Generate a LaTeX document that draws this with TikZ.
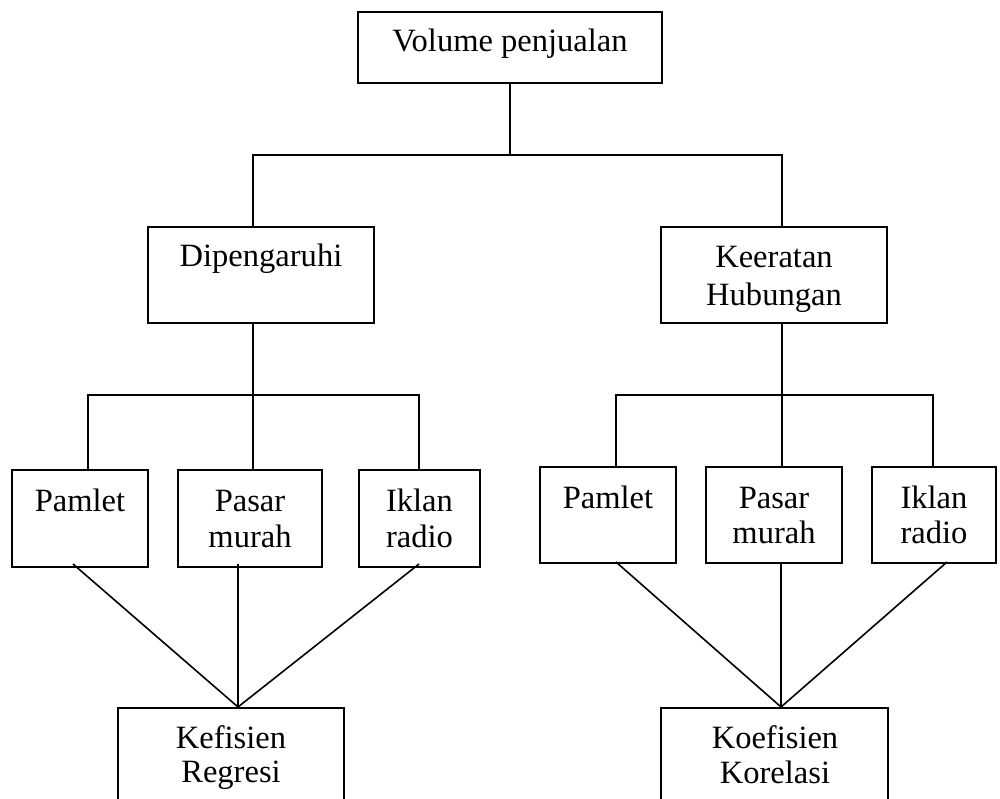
\documentclass[tikz,border=0pt]{standalone}
\usepackage{fontspec}
\setmainfont{Liberation Serif}
\begin{document}
\begin{tikzpicture}[x=0.75pt,y=-0.75pt,
  box/.style={draw, line width=1.2pt, inner sep=0pt, fill=none},
  txt/.style={anchor=base, inner sep=0pt, font=\fontsize{24.4pt}{29pt}\selectfont},
  wire/.style={line width=1.2pt}]
\useasboundingbox (0,0) rectangle (1000,799);
\clip (0,0) rectangle (1000,799);

% boxes: name, centre x, centre y, width, height (in px)
\newcommand\pbox[5]{\node[box, minimum width=#4*0.75pt, minimum height=#5*0.75pt] (#1) at (#2,#3) {};}
\pbox{top}{510}{47.5}{304}{71}
\pbox{dip}{261}{275}{226}{96}
\pbox{kee}{774}{275}{226}{96}
\pbox{pamL}{80}{518.5}{136}{97}
\pbox{pasL}{250}{518.5}{144}{97}
\pbox{ikL}{419.5}{518.5}{121}{97}
\pbox{pamR}{608}{515}{136}{96}
\pbox{pasR}{774}{515}{136}{96}
\pbox{ikR}{934}{515}{124}{96}
\pbox{reg}{231}{770}{226}{124}
\pbox{kor}{774.5}{770}{227}{124}

% labels
\node[txt] (tTop) at (510,52) {Volume penjualan};
\node[txt] (tDip) at (261,266) {Dipengaruhi};
\node[txt] (tKee1) at (774,267) {Keeratan};
\node[txt] (tKee2) at (774,305) {Hubungan};
\node[txt] (tPamL) at (80,511) {Pamlet};
\node[txt] (tPasL1) at (250,511) {Pasar};
\node[txt] (tPasL2) at (250,547) {murah};
\node[txt] (tIkL1) at (419.5,511) {Iklan};
\node[txt] (tIkL2) at (419.5,547) {radio};
\node[txt] (tPamR) at (608,508) {Pamlet};
\node[txt] (tPasR1) at (774,508) {Pasar};
\node[txt] (tPasR2) at (774,543) {murah};
\node[txt] (tIkR1) at (934,508) {Iklan};
\node[txt] (tIkR2) at (934,543) {radio};
\node[txt] (tReg1) at (231,748) {Kefisien};
\node[txt] (tReg2) at (231,782) {Regresi};
\node[txt] (tKor1) at (775,748) {Koefisien};
\node[txt] (tKor2) at (775,783) {Korelasi};

% bus bars
\coordinate (b1) at (510,155);
\coordinate (b1l) at (253,155);
\coordinate (b1r) at (782,155);
\draw[wire] (top.south) -- (b1);
\draw[wire] (b1l |- dip.north) -- (b1l) -- (b1r) -- (b1r |- kee.north);

\coordinate (b2) at (253,395);
\coordinate (b2l) at (88,395);
\coordinate (b2r) at (419,395);
\draw[wire] (b2 |- dip.south) -- (b2);
\draw[wire] (b2l |- pamL.north) -- (b2l) -- (b2r) -- (b2r |- ikL.north);
\draw[wire] (b2) -- (b2 |- pasL.north);

\coordinate (b3) at (782,395);
\coordinate (b3l) at (616,395);
\coordinate (b3r) at (933,395);
\draw[wire] (b3 |- kee.south) -- (b3);
\draw[wire] (b3l |- pamR.north) -- (b3l) -- (b3r) -- (b3r |- ikR.north);
\draw[wire] (b3) -- (b3 |- pasR.north);

% converging links
\coordinate (cL) at (238,707);
\coordinate (cR) at (781,707);
\draw[wire] (73,564) -- (cL);
\draw[wire] (238,564) -- (cL);
\draw[wire] (419,564) -- (cL);
\draw[wire] (616,562) -- (cR);
\draw[wire] (781,562) -- (cR);
\draw[wire] (947,562) -- (cR);
\end{tikzpicture}
\end{document}
